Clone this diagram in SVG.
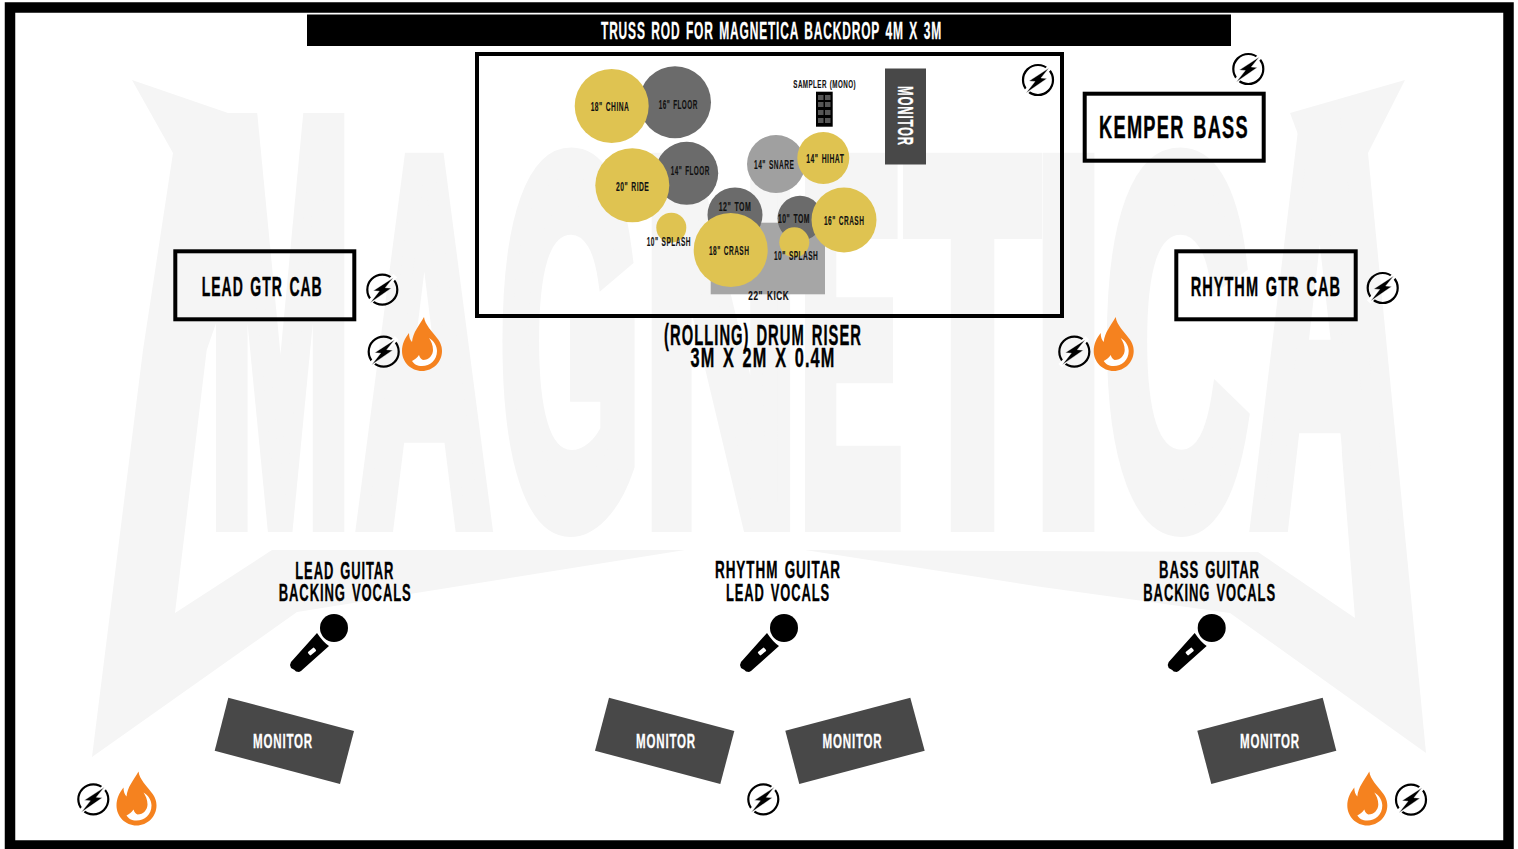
<svg xmlns="http://www.w3.org/2000/svg" width="1518" height="849" viewBox="0 0 1518 849">
<style>
text{font-family:"Liberation Sans",Arial,sans-serif;font-weight:700;letter-spacing:.07em;word-spacing:.12em}
.wm{fill:#f5f5f5;stroke:#f5f5f5;stroke-width:30;font-size:515px;letter-spacing:0;word-spacing:0}
.k{font-size:12.500px;fill:#111;stroke:#111;stroke-width:.15}
.l{font-size:24px;fill:#000;stroke:#000;stroke-width:.35}
.h{stroke:#000;stroke-width:.4}
.m{font-size:21px;fill:#fff;stroke:#fff;stroke-width:.3}
.b{fill:none;stroke:#000;stroke-width:4}
.y{fill:#dfc351}.t{fill:#6b6b6b}.mon{fill:#484848}
</style>
<defs>
<g id="power"><circle r="15" fill="none" stroke="#000" stroke-width="2.2"/><path d="M13 -14 L-14 14" stroke="#fff" stroke-width="5"/><path d="M11 -12 L-9 1 L-3 1.500 L-12 13 L9 -1.500 L3 -2 Z" fill="#000" stroke="#fff" stroke-width="0.4"/></g>
<g id="flame"><path fill="#f5821f" d="M22 0 C23 8 30 14 35 21 C39 26 40 30 40 34 C40 45 31 54 20 54 C9 54 0 45 0 34 C0 27 3 21 7 16 C7 20 8 23 10 25 C11 15 17 9 22 0 Z"/><path fill="#fff" d="M27 21 C32 24 35 29 35 34 C35 43 28 49 20 49 C15 49 12 47 10 44 C13 42 15 41 17 38 C18 41 19 42 21 43 C27 43 31 38 31 33 C31 28 29 24 27 21 Z"/></g>
<g id="mic"><circle r="14" fill="#000"/><path fill="#000" d="M-17 5 Q-11 14 -5 18 L-33 43 L-35 44 L-38 43.500 L-39.500 42 L-43 40 L-44 37 L-43 34 Z"/><rect x="-26" y="-2.200" width="8" height="4.400" rx="1" fill="#fff" transform="translate(0,23.500) rotate(-40 -22 0)"/></g>
</defs>
<rect width="1518" height="849" fill="#fff"/>
<g id="watermark">
<polygon fill="#f5f5f5" points="132,80 228,113 238,260 206.700,350 175,613 272,550 685,550 297,612 92,757 143,350 173,153"/>
<polygon fill="#f5f5f5" points="1405,80 1290,113 1335,233 1342,455 1355,618 1258,552 805,550 1040,586.700 1230,613 1426,753 1392,400 1368,153"/>
<text class="wm" transform="translate(209.600,515.600) scale(.329,1.09)">M</text>
<text class="wm" transform="translate(358.300,517.200) scale(.355,.987)">A</text>
<text class="wm" transform="translate(500.300,517.200) scale(.35,.987)">G</text>
<text class="wm" transform="translate(643.600,517.200) scale(.416,.987)">N</text>
<text class="wm" transform="translate(799.200,517.200) scale(.3,.987)">E</text>
<text class="wm" transform="translate(906.800,517.200) scale(.418,.987)">T</text>
<text class="wm" transform="translate(1033,517.200) scale(.497,.987)">I</text>
<text class="wm" transform="translate(1104.500,517.200) scale(.385,.987)">C</text>
<text class="wm" transform="translate(1252.400,515.600) scale(.3625,1.09)">A</text>
</g>
<rect id="frame" x="10" y="7.500" width="1498.500" height="838" fill="none" stroke="#000" stroke-width="10.500"/>
<g id="truss"><rect x="307" y="14.500" width="924" height="31.500" fill="#000"/><text x="601" y="38.500" font-size="23" fill="#fff" stroke="#fff" stroke-width=".3" textLength="341" lengthAdjust="spacingAndGlyphs">TRUSS ROD FOR MAGNETICA BACKDROP 4M X 3M</text></g>
<g id="drum-riser">
<rect class="b" x="477" y="54" width="585" height="262"/>
<text class="h" x="664" y="345" font-size="29" textLength="198" lengthAdjust="spacingAndGlyphs">(ROLLING) DRUM RISER</text>
<text class="h" x="690.500" y="367" font-size="27" textLength="145" lengthAdjust="spacingAndGlyphs">3M X 2M X 0.4M</text>
</g>
<g id="drum-kit">
<rect x="710.700" y="222.700" width="114.300" height="71.600" fill="#a6a6a6"/>
<circle class="t" cx="675" cy="102.300" r="36"/>
<circle class="y" cx="611.700" cy="106" r="37"/>
<circle class="t" cx="686.700" cy="173.300" r="31.500"/>
<circle class="y" cx="632.300" cy="185.300" r="37"/>
<circle class="t" cx="735" cy="215" r="27.500"/>
<circle class="y" cx="671.300" cy="227.700" r="15"/>
<circle class="y" cx="730.700" cy="250" r="37"/>
<circle cx="776" cy="164" r="29" fill="#a0a0a0"/>
<circle class="y" cx="823.300" cy="158" r="26"/>
<circle class="t" cx="800" cy="218.300" r="22.500"/>
<circle class="y" cx="844" cy="220" r="32.500"/>
<circle class="y" cx="794.300" cy="242.300" r="15"/>
<text class="k" x="590.700" y="111" textLength="38.600" lengthAdjust="spacingAndGlyphs">18" CHINA</text>
<text class="k" x="658.700" y="109.300" textLength="39" lengthAdjust="spacingAndGlyphs">16" FLOOR</text>
<text class="k" x="616" y="191" textLength="33.300" lengthAdjust="spacingAndGlyphs">20" RIDE</text>
<text class="k" x="670.700" y="175" textLength="39" lengthAdjust="spacingAndGlyphs">14" FLOOR</text>
<text class="k" x="718.700" y="211" textLength="32.600" lengthAdjust="spacingAndGlyphs">12" TOM</text>
<text class="k" x="709" y="255.300" textLength="40.300" lengthAdjust="spacingAndGlyphs">18" CRASH</text>
<text class="k" x="646.700" y="246.300" textLength="44.300" lengthAdjust="spacingAndGlyphs">10" SPLASH</text>
<text class="k" x="754" y="169" textLength="40.300" lengthAdjust="spacingAndGlyphs">14" SNARE</text>
<text class="k" x="806.300" y="163" textLength="38" lengthAdjust="spacingAndGlyphs">14" HIHAT</text>
<text class="k" x="778" y="222.700" textLength="32" lengthAdjust="spacingAndGlyphs">10" TOM</text>
<text class="k" x="824" y="225" textLength="40.300" lengthAdjust="spacingAndGlyphs">16" CRASH</text>
<text class="k" x="774" y="260.300" textLength="44.300" lengthAdjust="spacingAndGlyphs">10" SPLASH</text>
<text class="k" x="748.300" y="300" style="font-size:13px" textLength="41" lengthAdjust="spacingAndGlyphs">22" KICK</text>
</g>
<g id="sampler">
<text class="k" x="793.300" y="87.700" style="font-size:11.500px" textLength="62.700" lengthAdjust="spacingAndGlyphs">SAMPLER (MONO)</text>
<rect x="816" y="91.700" width="16.700" height="35" fill="#000"/>
<g fill="#555"><rect x="818" y="95" width="5.500" height="5"/><rect x="825" y="95" width="5.500" height="5"/><rect x="818" y="102" width="5.500" height="5"/><rect x="825" y="102" width="5.500" height="5"/><rect x="818" y="110" width="5.500" height="5"/><rect x="825" y="110" width="5.500" height="5"/><rect x="818" y="118" width="5.500" height="5"/><rect x="825" y="118" width="5.500" height="5"/></g>
</g>
<g id="drum-monitor"><rect class="mon" x="885" y="68.500" width="41" height="96"/><text x="0" y="0" font-size="22" fill="#fff" stroke="#fff" stroke-width=".3" transform="translate(898,86) rotate(90)" textLength="60" lengthAdjust="spacingAndGlyphs">MONITOR</text></g>
<g id="lead-cab"><rect class="b" x="175.300" y="251.300" width="179" height="68"/><text class="h" x="201.700" y="295.700" font-size="28" textLength="121" lengthAdjust="spacingAndGlyphs">LEAD GTR CAB</text></g>
<g id="rhythm-cab"><rect class="b" x="1176.300" y="251.300" width="179.400" height="68"/><text class="h" x="1190.700" y="295.700" font-size="28" textLength="150.300" lengthAdjust="spacingAndGlyphs">RHYTHM GTR CAB</text></g>
<g id="kemper"><rect class="b" x="1084.700" y="93.700" width="179" height="67"/><text class="h" x="1099" y="138" font-size="31.500" textLength="150" lengthAdjust="spacingAndGlyphs">KEMPER BASS</text></g>
<g id="power-icons">
<use href="#power" x="1038" y="80"/><use href="#power" x="1248.300" y="69"/><use href="#power" x="382.300" y="289.700"/><use href="#power" x="383.700" y="351.700"/><use href="#power" x="1382.700" y="288"/><use href="#power" x="1074.300" y="351.700"/><use href="#power" x="93.300" y="799.300"/><use href="#power" x="763.300" y="799.300"/><use href="#power" x="1411" y="799.700"/>
</g>
<g id="flames">
<use href="#flame" x="402" y="317"/><use href="#flame" x="1093.700" y="317"/><use href="#flame" x="116.500" y="771.500"/><use href="#flame" x="1347.300" y="771.500"/>
</g>
<g id="lead-guitar"><text class="l" x="295.300" y="579" textLength="99" lengthAdjust="spacingAndGlyphs">LEAD GUITAR</text><text class="l" x="278.700" y="601" textLength="133" lengthAdjust="spacingAndGlyphs">BACKING VOCALS</text><use href="#mic" x="334" y="628"/></g>
<g id="rhythm-guitar"><text class="l" x="715" y="578" textLength="126" lengthAdjust="spacingAndGlyphs">RHYTHM GUITAR</text><text class="l" x="726" y="600.500" textLength="104" lengthAdjust="spacingAndGlyphs">LEAD VOCALS</text><use href="#mic" x="784" y="628"/></g>
<g id="bass-guitar"><text class="l" x="1159" y="578" textLength="101" lengthAdjust="spacingAndGlyphs">BASS GUITAR</text><text class="l" x="1143.300" y="600.500" textLength="132.700" lengthAdjust="spacingAndGlyphs">BACKING VOCALS</text><use href="#mic" x="1211.700" y="628"/></g>
<g id="monitor-1"><polygon class="mon" points="228.300,697.700 354,731 340,784 214.700,750.700"/><text class="m" x="253" y="748" textLength="60" lengthAdjust="spacingAndGlyphs">MONITOR</text></g>
<g id="monitor-2"><polygon class="mon" points="609,697.700 734.300,731 720.300,784 595,750.700"/><text class="m" x="636" y="748" textLength="60" lengthAdjust="spacingAndGlyphs">MONITOR</text></g>
<g id="monitor-3"><polygon class="mon" points="910.300,697.700 924.700,750.700 799.300,784 785.300,730.700"/><text class="m" x="822.500" y="748" textLength="60" lengthAdjust="spacingAndGlyphs">MONITOR</text></g>
<g id="monitor-4"><polygon class="mon" points="1322.700,697.700 1336.300,750.700 1211.300,784 1197.300,730.700"/><text class="m" x="1240" y="748" textLength="60" lengthAdjust="spacingAndGlyphs">MONITOR</text></g>
</svg>
